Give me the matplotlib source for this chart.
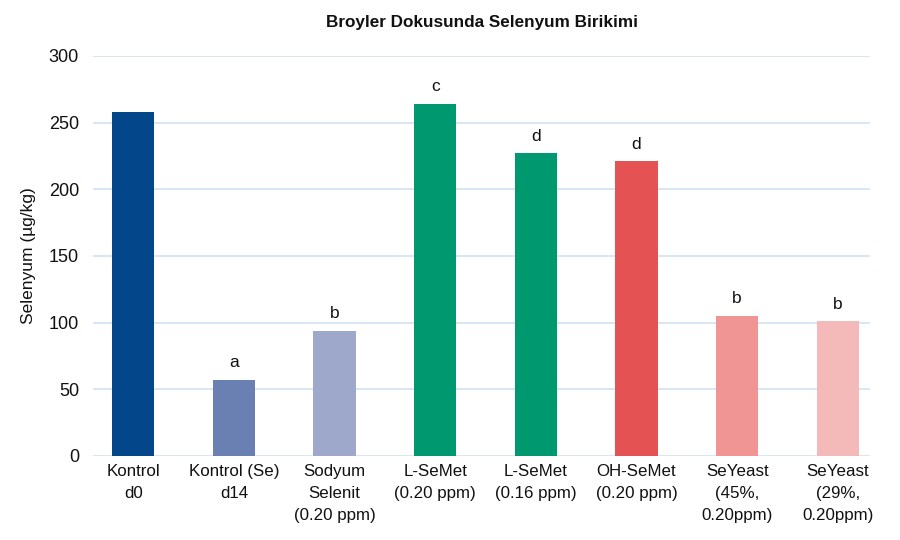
import numpy as np
import matplotlib.pyplot as plt

plt.rcParams['font.family'] = ['Liberation Sans', 'DejaVu Sans']

# data
categories = ["Kontrol\nd0", "Kontrol (Se)\nd14", "Sodyum\nSelenit\n(0.20 ppm)",
              "L-SeMet\n(0.20 ppm)", "L-SeMet\n(0.16 ppm)", "OH-SeMet\n(0.20 ppm)",
              "SeYeast\n(45%,\n0.20ppm)", "SeYeast\n(29%,\n0.20ppm)"]
values = [258, 57, 94, 264, 227, 221, 105, 101]
letters = ["", "a", "b", "c", "d", "d", "b", "b"]
colors = ["#03468a", "#6a7fb2", "#9da8cb", "#00996f", "#00996f",
          "#e55253", "#f09494", "#f4baba"]
yticks = [0, 50, 100, 150, 200, 250, 300]

fig = plt.figure(figsize=(9, 5.4), dpi=100)
ax = fig.add_axes([0.1033, 0.1556, 0.8634, 0.7407])

x = np.arange(len(categories))
ax.bar(x, values, width=0.42, color=colors, zorder=3)

# significance letters above bars
for xi, v, lab in zip(x, values, letters):
    if lab:
        ax.annotate(lab, (xi, v), xytext=(0, 7), textcoords="offset points",
                    ha="center", va="bottom", fontsize=12.5, color="#111111")

ax.set_ylim(0, 300)
ax.set_xlim(-0.4, 7.32)
ax.set_yticks(yticks)
ax.yaxis.grid(True, color="#d5e5f4", linewidth=1.3, zorder=0)
ax.set_axisbelow(True)
for s in ax.spines.values():
    s.set_visible(False)
ax.tick_params(axis="y", length=0, pad=10, labelsize=13, labelcolor="#111111")
ax.tick_params(axis="x", length=0, pad=6, labelsize=12.2, labelcolor="#111111")
ax.set_xticks(x)
ax.set_xticklabels(categories, linespacing=1.55, va="top")

ax.set_ylabel("Selenyum (µg/kg)", fontsize=12.5, color="#111111", labelpad=9)
fig.text(0.535, 0.959, "Broyler Dokusunda Selenyum Birikimi", ha="center",
         va="center", fontsize=12.3, fontweight="bold", color="#111111")

fig.savefig("out.png", dpi=100)
